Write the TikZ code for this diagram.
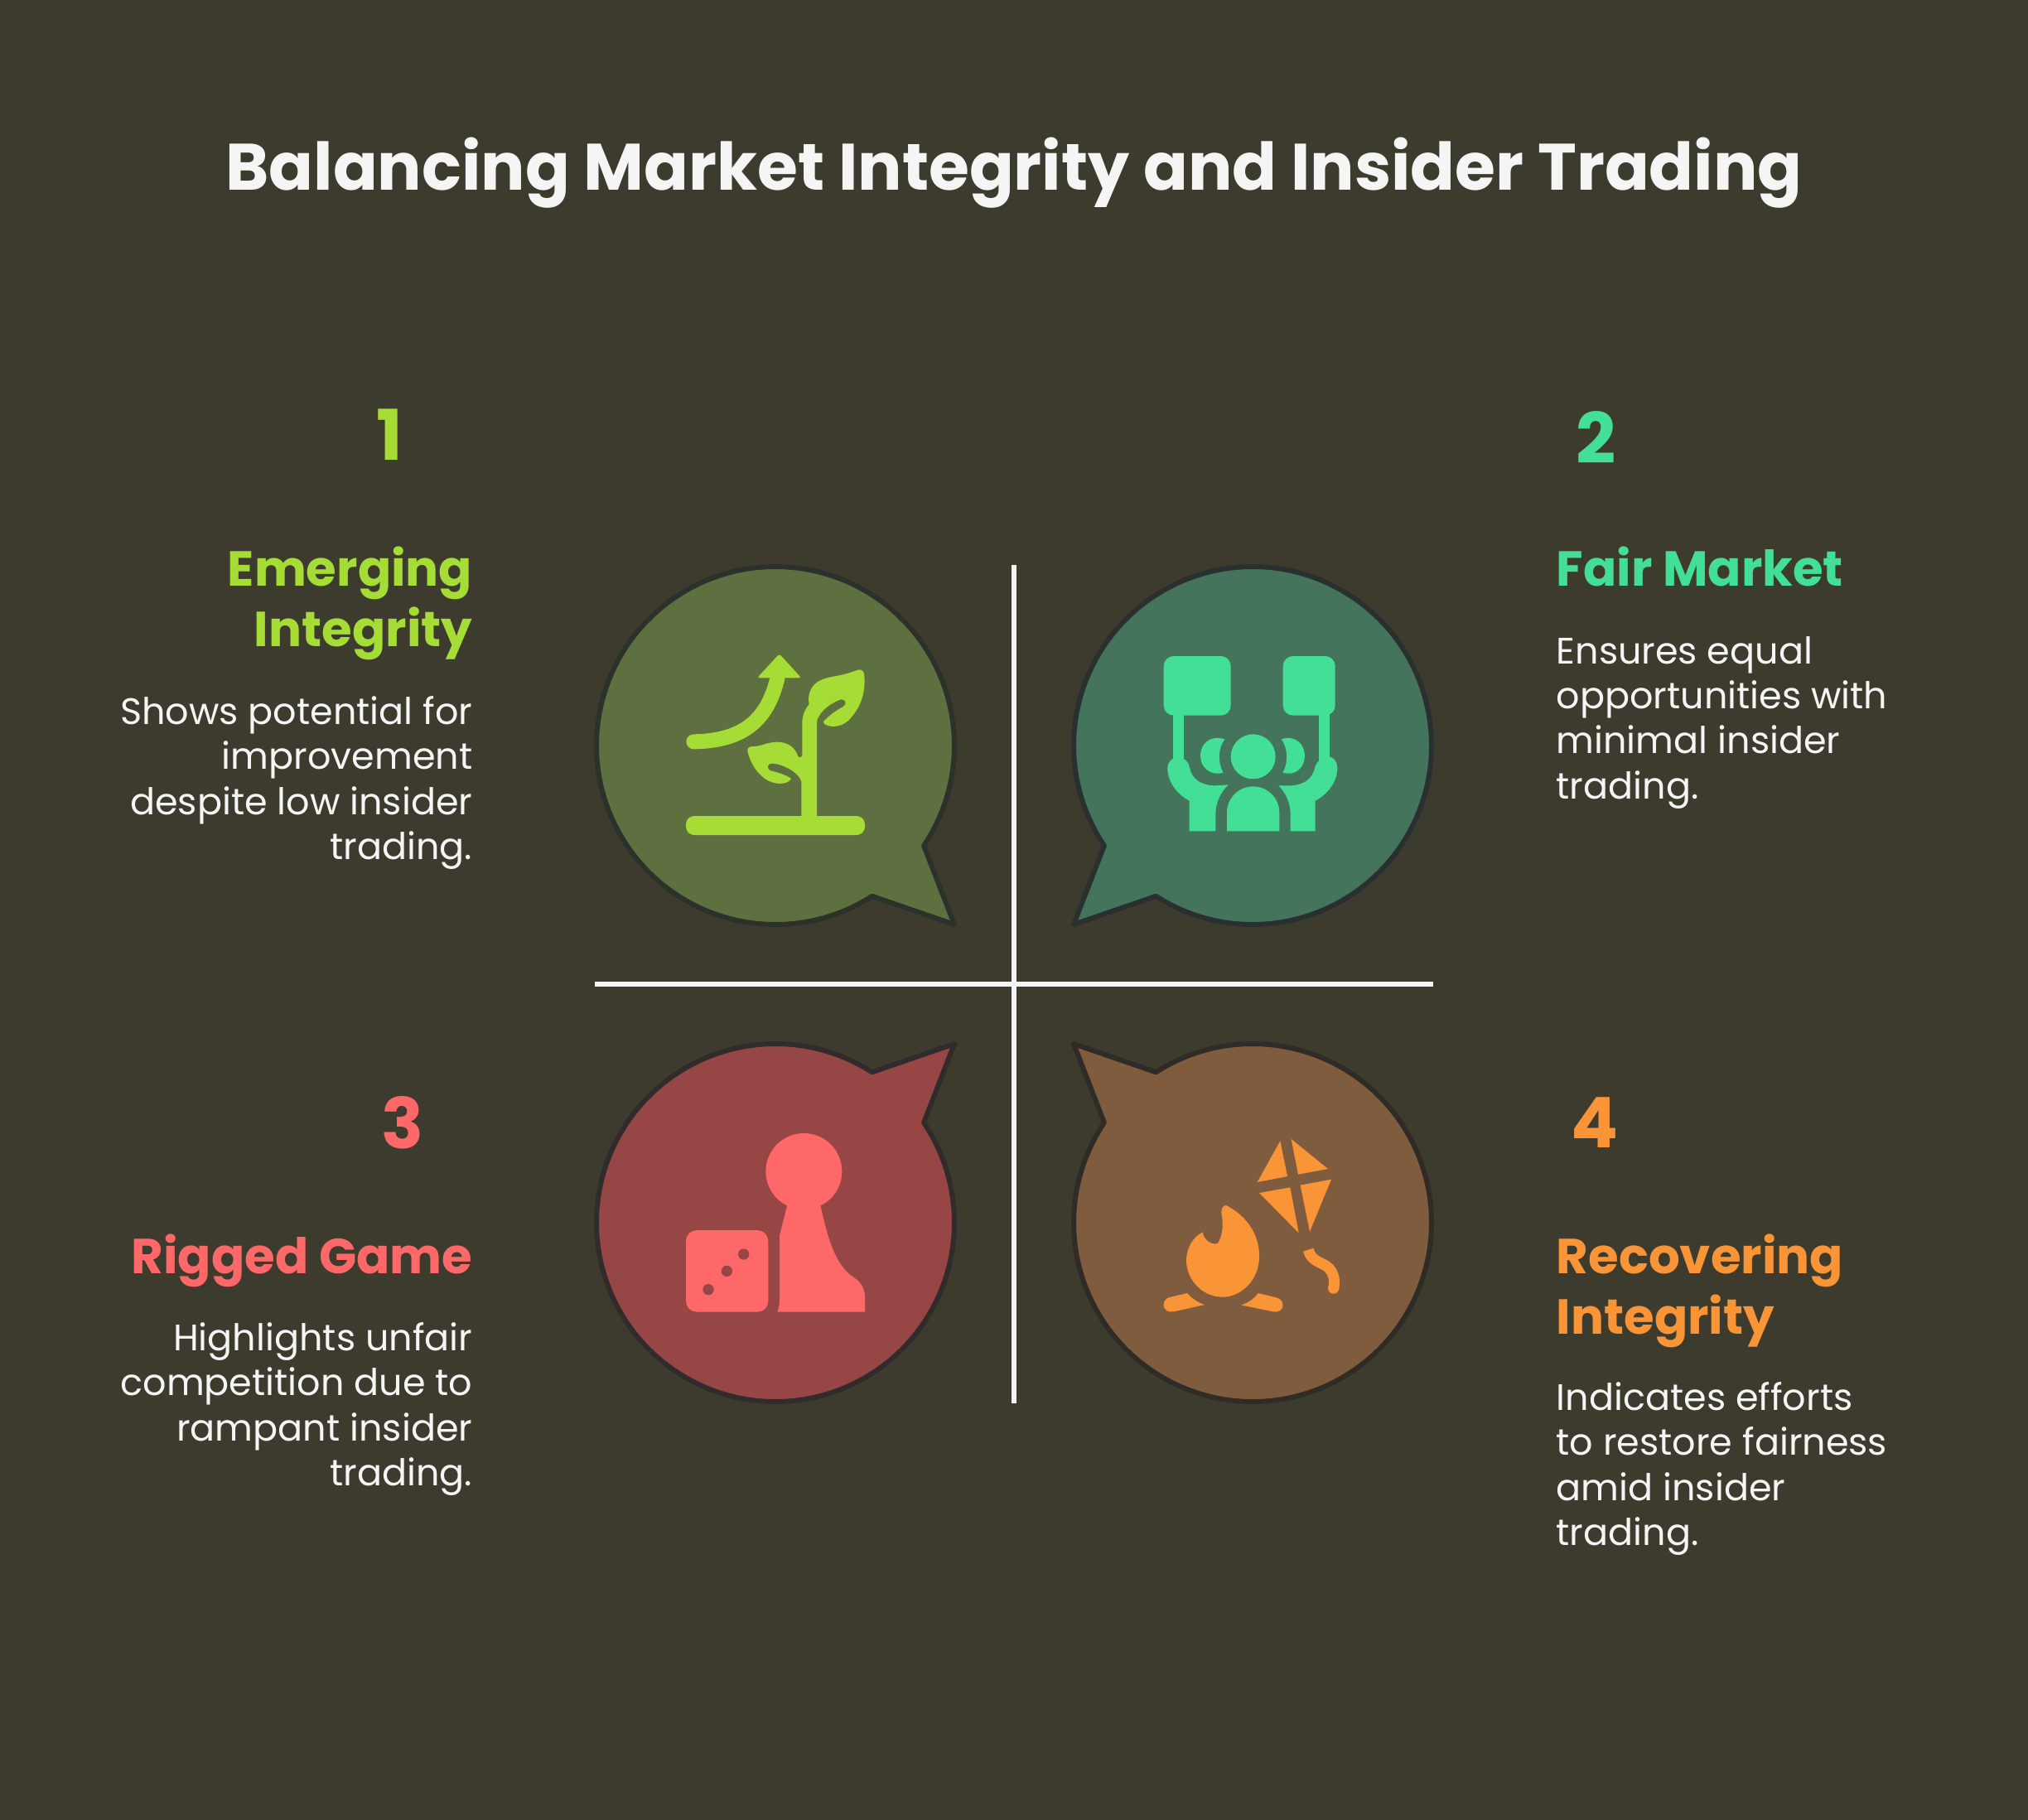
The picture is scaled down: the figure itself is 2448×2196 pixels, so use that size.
\documentclass[tikz,border=0pt]{standalone}
\usepackage{fontspec}
\setmainfont{Poppins}
\usetikzlibrary{positioning}
\definecolor{bgdark}{HTML}{3D3B2E}
\definecolor{paper}{HTML}{F5F5F5}
\definecolor{limeink}{HTML}{A5DC36}
\definecolor{limefill}{HTML}{5F7040}
\definecolor{limeline}{HTML}{2D312B}
\definecolor{mintink}{HTML}{43DF96}
\definecolor{mintfill}{HTML}{44745C}
\definecolor{mintline}{HTML}{2A302F}
\definecolor{redink}{HTML}{FF6868}
\definecolor{redfill}{HTML}{964644}
\definecolor{redline}{HTML}{312B2B}
\definecolor{orangeink}{HTML}{F99437}
\definecolor{orangefill}{HTML}{805C3E}
\definecolor{orangeline}{HTML}{2F2B27}
\tikzset{
  titletext/.style={inner sep=0,text=paper,font=\fontsize{22.55}{26}\selectfont\bfseries},
  numtext/.style={inner sep=0,font=\fontsize{24}{27}\selectfont\bfseries},
  headtext/.style={inner sep=0,font=\fontsize{16.9}{20.8}\selectfont\bfseries},
  desctext/.style={inner sep=0,text=paper,font=\fontsize{12.65}{15.4}\selectfont},
  axisline/.style={draw=paper,line width=0.6mm},
  zoomA/.style={shift={(700,660)},scale=0.33333},
  zoomB/.style={shift={(1280,660)},scale=0.33333},
  zoomC/.style={shift={(700,1240)},scale=0.33333},
  zoomD/.style={shift={(1280,1240)},scale=0.33333}
}
% center x, center y, flip x, flip y, colour name
\newcommand{\speechbubble}[5]{
  \draw[fill=#5fill,draw=#5line,line width=0.6mm,line join=round,shift={(#1,#2)},xscale=#3,yscale=#4]
    (57.3:216) arc[start angle=57.3,end angle=394,radius=216] -- (216,216) -- cycle;
}
\begin{document}
\begin{tikzpicture}[x=0.01cm,y=0.01cm,yscale=-1]
\useasboundingbox (0,0) rectangle (2448,2196);
\fill[bgdark] (-5,-5) rectangle (2453,2201);

\node[titletext] (title) at (1224,209) {Balancing Market Integrity and Insider Trading};

% the four bubbles
\speechbubble{936}{900}{1}{1}{lime}
\speechbubble{1512}{900}{-1}{1}{mint}
\speechbubble{936}{1476}{1}{-1}{red}
\speechbubble{1512}{1476}{-1}{-1}{orange}

% cross
\coordinate (axtop) at (1224,682);
\coordinate (axbot) at (1224,1694);
\coordinate (axleft) at (718,1188);
\coordinate (axright) at (1730,1188);
\draw[axisline] (axtop) -- (axbot);
\draw[axisline] (axleft) -- (axright);

% sprout
\begin{scope}[zoomA]
  \fill[limeink,rounded corners=1mm] (384,975) rectangle (1032,1044);
  \draw[limeink,line width=1.8mm,line cap=round] (412,706) .. controls (590,703) and (680,630) .. (716,472);
  \fill[limeink,rounded corners=0.3mm] (722,388) -- (802,475) -- (642,475) -- cycle;
  \fill[limeink] (802,985) -- (802,850) .. controls (795,820) and (735,785) .. (695,785)
    .. controls (675,785) and (675,808) .. (695,812) .. controls (720,818) and (750,828) .. (765,840)
    .. controls (750,865) and (700,862) .. (670,840) .. controls (635,815) and (615,775) .. (607,740)
    .. controls (605,728) and (615,722) .. (630,723) .. controls (660,722) and (680,707) .. (715,707)
    .. controls (750,707) and (780,725) .. (790,760) .. controls (795,765) and (803,765) .. (805,757)
    -- (805,640) .. controls (805,610) and (815,590) .. (830,570) .. controls (825,545) and (830,510) .. (860,490)
    .. controls (890,470) and (930,470) .. (955,462) .. controls (980,457) and (1000,447) .. (1012,445)
    .. controls (1025,445) and (1030,455) .. (1030,470) .. controls (1035,530) and (1015,580) .. (985,615)
    .. controls (960,650) and (915,660) .. (885,642) .. controls (880,635) and (882,630) .. (890,625)
    .. controls (915,600) and (935,590) .. (955,578) .. controls (968,570) and (962,550) .. (945,553)
    .. controls (910,565) and (875,590) .. (860,625) -- (858,640) -- (858,985) -- cycle;
\end{scope}

% crowd with signs
\begin{scope}[zoomB]
  \fill[mintink,rounded corners=1.2mm] (374,396) rectangle (617,611);
  \fill[mintink,rounded corners=1.2mm] (806,396) rectangle (995,611);
  \fill[mintink] (408,600) rectangle (447,775);
  \fill[mintink] (935,600) rectangle (975,775);
  \fill[mintink] (388,800) .. controls (388,780) and (405,762) .. (425,762) .. controls (450,762) and (465,780) .. (468,800)
    .. controls (475,840) and (510,865) .. (560,865) -- (608,862) .. controls (580,890) and (562,925) .. (562,970)
    -- (562,1030) -- (467,1030) -- (467,920) .. controls (420,895) and (388,850) .. (388,800) -- cycle;
  \fill[mintink] (1003,800) .. controls (1003,780) and (990,760) .. (970,760) .. controls (945,762) and (925,780) .. (920,805)
    .. controls (912,840) and (880,865) .. (830,865) -- (790,865) .. controls (815,890) and (833,925) .. (833,970)
    -- (833,1030) -- (923,1030) -- (923,920) .. controls (970,895) and (1003,850) .. (1003,800) -- cycle;
  \fill[mintink] (595,697) .. controls (540,680) and (507,715) .. (507,757) .. controls (507,800) and (545,832) .. (590,818)
    .. controls (570,785) and (570,730) .. (595,697) -- cycle;
  \fill[mintink] (800,697) .. controls (850,680) and (885,715) .. (885,757) .. controls (885,800) and (850,832) .. (805,818)
    .. controls (825,785) and (825,730) .. (800,697) -- cycle;
  \fill[mintink] (698,760) circle[radius=81];
  \fill[mintink] (603,1030) -- (603,963) arc[start angle=180,end angle=360,radius=95] -- (793,1030) -- cycle;
\end{scope}

% die and pawn
\begin{scope}[zoomC]
  \fill[redink,rounded corners=1.3mm] (384,735) rectangle (682,1031);
  \fill[redfill] (593,822) circle[radius=20];
  \fill[redfill] (532,883) circle[radius=20];
  \fill[redfill] (465,950) circle[radius=20];
  \fill[redink] (811,522) circle[radius=138];
  \fill[redink] (752,640) -- (723,755) -- (723,990) .. controls (723,1005) and (720,1018) .. (715,1031)
    -- (1032,1031) -- (1032,975) .. controls (1032,945) and (1015,920) .. (990,905)
    .. controls (930,865) and (900,780) .. (870,640) -- cycle;
\end{scope}

% campfire and kite
\begin{scope}[zoomD]
  \fill[orangeink] (796,412) -- (822,540) -- (713,561) -- cycle;
  \fill[orangeink] (836,405) -- (969,513) -- (861,533) -- cycle;
  \fill[orangeink] (720,600) -- (832,580) -- (863,745) -- cycle;
  \fill[orangeink] (869,572) -- (981,551) -- (903,740) -- cycle;
  \draw[orangeink,line width=1.3mm] (898,806) .. controls (905,840) and (935,850) .. (955,860)
    .. controls (985,875) and (998,910) .. (989,945);
  \fill[orangeink] (989,945) circle[radius=20];
  \fill[orangeink] (600,645) .. controls (640,665) and (720,720) .. (720,830) .. controls (720,920) and (650,977) .. (588,977)
    .. controls (510,977) and (456,910) .. (456,845) .. controls (456,800) and (480,760) .. (515,742)
    .. controls (520,770) and (545,790) .. (570,783) .. controls (590,750) and (590,710) .. (583,670)
    .. controls (583,655) and (590,645) .. (600,645) -- cycle;
  \fill[orangeink] (460,963) -- (395,978) .. controls (360,988) and (370,1038) .. (410,1030) -- (522,1005)
    .. controls (495,995) and (475,982) .. (460,963) -- cycle;
  \fill[orangeink] (716,963) -- (785,980) .. controls (818,990) and (810,1038) .. (770,1030) -- (655,1006)
    .. controls (680,998) and (700,985) .. (716,963) -- cycle;
\end{scope}

% labels
\node[numtext,text=limeink] (numone) at (470,525) {1};
\node[numtext,text=mintink] (numtwo) at (1927,528) {2};
\node[numtext,text=redink] (numthree) at (486,1355) {3};
\node[numtext,text=orangeink] (numfour) at (1925,1355) {4};

\node[headtext,text=limeink,anchor=north east,align=right] (headone) at (571,659) {Emerging\\Integrity};
\node[desctext,anchor=north east,align=right] (descone) at (571,840) {Shows potential for\\improvement\\despite low insider\\trading.};

\node[headtext,text=mintink,anchor=north west,align=left] (headtwo) at (1878,659) {Fair Market};
\node[desctext,anchor=north west,align=left] (desctwo) at (1878,768) {Ensures equal\\opportunities with\\minimal insider\\trading.};

\node[headtext,text=redink,anchor=north east,align=right] (headthree) at (571,1489) {Rigged Game};
\node[desctext,anchor=north east,align=right] (descthree) at (571,1596) {Highlights unfair\\competition due to\\rampant insider\\trading.};

\node[headtext,text=orangeink,anchor=north west,align=left] (headfour) at (1878,1489) {Recovering\\Integrity};
\node[desctext,anchor=north west,align=left] (descfour) at (1878,1668) {Indicates efforts\\to restore fairness\\amid insider\\trading.};
\end{tikzpicture}
\end{document}
